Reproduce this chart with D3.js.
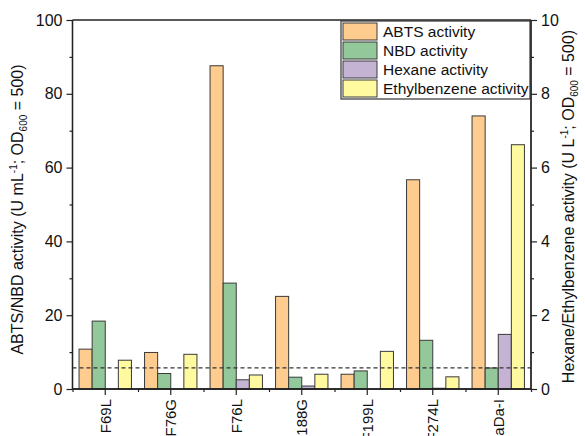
<!DOCTYPE html>
<html>
<head>
<meta charset="utf-8">
<script src="https://cdn.jsdelivr.net/npm/d3@7"></script>
<style>
  body { margin: 0; background: #fff; }
  svg { display: block; font-family: "Liberation Sans", Arial, sans-serif; }
</style>
</head>
<body>
<div id="chart"></div>
<script>
// variants along the x axis
const variants = ["F69L", "F76G", "F76L", "I188G", "F199L", "F274L", "PaDa-I"];
// left axis (U mL-1)
const abts = [10.8, 9.9, 87.6, 25.1, 4.0, 56.7, 74.0];
const nbd = [18.4, 4.2, 28.7, 3.2, 4.9, 13.2, 5.7];
// right axis (U L-1)
const hexane = [0, 0, 0.25, 0.08, 0, 0.02, 1.48];
const ethylbenzene = [0.78, 0.94, 0.38, 0.40, 1.02, 0.33, 6.62];
const seriesNames = ["ABTS activity", "NBD activity", "Hexane activity", "Ethylbenzene activity"];
const seriesColors = ["#ffcc8f", "#93c89a", "#c4b3d3", "#fff9a0"];
const leftTicks = [0, 20, 40, 60, 80, 100];
const rightTicks = [0, 2, 4, 6, 8, 10];
const thresholdLeft = 5.7; // dashed line, left axis units

const width = 585, height = 436;
const m = { top: 20, right: 54, bottom: 47, left: 72.5 };
const x0 = 72.5, x1 = 531, yTop = 20, yBot = 389;

const svg = d3.select("#chart").append("svg")
  .attr("width", width)
  .attr("height", height);

const x = d3.scaleBand().domain(variants).range([x0, x1]).paddingInner(0.2).paddingOuter(0.1);
const xs = d3.scaleBand().domain(d3.range(4)).range([0, x.bandwidth()]);
const yL = d3.scaleLinear().domain([0, 100]).range([yBot, yTop]);
const yR = d3.scaleLinear().domain([0, 10]).range([yBot, yTop]);

const rows = [];
variants.forEach((v, i) => {
  rows.push({ v, s: 0, val: abts[i], y: yL });
  rows.push({ v, s: 1, val: nbd[i], y: yL });
  rows.push({ v, s: 2, val: hexane[i], y: yR });
  rows.push({ v, s: 3, val: ethylbenzene[i], y: yR });
});

svg.append("g").selectAll("rect")
  .data(rows.filter(d => d.val > 0))
  .enter()
  .append("rect")
  .attr("x", d => x(d.v) + xs(d.s))
  .attr("width", xs.bandwidth())
  .attr("y", d => d.y(d.val))
  .attr("height", d => d.y(0) - d.y(d.val))
  .attr("fill", d => seriesColors[d.s])
  .attr("stroke", "#3a3a3a")
  .attr("stroke-width", 1);

// dashed threshold line
svg.append("line")
  .attr("x1", x0).attr("x2", x1)
  .attr("y1", yL(thresholdLeft)).attr("y2", yL(thresholdLeft))
  .attr("stroke", "#333")
  .attr("stroke-width", 1.2)
  .attr("stroke-dasharray", "4,3");

// frame
svg.append("line").attr("x1", x0).attr("x2", x1).attr("y1", yTop).attr("y2", yTop)
  .attr("stroke", "#222").attr("stroke-width", 1.3);

// left axis
const leftAx = svg.append("g").attr("transform", `translate(${x0},0)`)
  .call(d3.axisLeft(yL).tickValues(leftTicks).tickSize(6).tickPadding(4));
leftAx.append("g").call(d3.axisLeft(yL).tickValues(d3.range(10, 100, 20)).tickSize(3).tickFormat(""));
// right axis
const rightAx = svg.append("g").attr("transform", `translate(${x1},0)`)
  .call(d3.axisRight(yR).tickValues(rightTicks).tickSize(6).tickPadding(4));
rightAx.append("g").call(d3.axisRight(yR).tickValues(d3.range(1, 10, 2)).tickSize(3).tickFormat(""));
// bottom axis
const botAx = svg.append("g").attr("transform", `translate(0,${yBot})`)
  .call(d3.axisBottom(x).tickSize(6).tickPadding(4));
const step = x.step();
botAx.append("g").call(
  d3.axisBottom(d3.scaleLinear().domain([0, variants.length]).range([x0, x1]))
    .tickValues(d3.range(0, variants.length + 1)).tickSize(3).tickFormat("")
);

[leftAx, rightAx, botAx].forEach(ax => {
  ax.selectAll(".domain").attr("stroke", "#222").attr("stroke-width", 1.3);
  ax.selectAll(".tick line").attr("stroke", "#222").attr("stroke-width", 1.2);
  ax.selectAll("text").attr("fill", "#111").style("font-size", "16px");
});
leftAx.selectAll(".domain").attr("d", `M0,${yBot}V${yTop}`);
rightAx.selectAll(".domain").attr("d", `M0,${yBot}V${yTop}`);
botAx.selectAll(".domain").attr("d", `M${x0},0H${x1}`);

botAx.selectAll(".tick text")
  .style("font-size", "15px")
  .attr("transform", "rotate(-90)")
  .attr("text-anchor", "end")
  .attr("x", -10)
  .attr("y", 0)
  .attr("dy", "0.35em");

// axis titles
const lt = svg.append("text")
  .attr("transform", `translate(23,${(yTop + yBot) / 2 + 5}) rotate(-90)`)
  .attr("text-anchor", "middle")
  .style("font-size", "16px")
  .attr("fill", "#111");
lt.append("tspan").text("ABTS/NBD activity (U mL");
lt.append("tspan").text("-1").style("font-size", "10px").attr("dy", -6);
lt.append("tspan").text("; OD").attr("dy", 6);
lt.append("tspan").text("600").style("font-size", "10px").attr("dy", 4);
lt.append("tspan").text(" = 500)").attr("dy", -4);

const rt = svg.append("text")
  .attr("transform", `translate(574,${(yTop + yBot) / 2 + 2}) rotate(-90)`)
  .attr("text-anchor", "middle")
  .style("font-size", "16px")
  .attr("fill", "#111");
rt.append("tspan").text("Hexane/Ethylbenzene activity (U L");
rt.append("tspan").text("-1").style("font-size", "10px").attr("dy", -6);
rt.append("tspan").text("; OD").attr("dy", 6);
rt.append("tspan").text("600").style("font-size", "10px").attr("dy", 4);
rt.append("tspan").text(" = 500)").attr("dy", -4);

// legend
const lg = svg.append("g").attr("transform", "translate(341,21)");
lg.append("rect").attr("width", 189).attr("height", 78)
  .attr("fill", "#fff").attr("stroke", "#333").attr("stroke-width", 1.2);
const li = lg.selectAll(".li").data(seriesNames).enter().append("g")
  .attr("transform", (d, i) => `translate(2,${2 + i * 19})`);
li.append("rect").attr("width", 34).attr("height", 17)
  .attr("fill", (d, i) => seriesColors[i]).attr("stroke", "#3a3a3a");
li.append("text").attr("x", 40).attr("y", 9).attr("dy", "0.35em")
  .style("font-size", "15.5px").attr("fill", "#111").text(d => d);
</script>
</body>
</html>
